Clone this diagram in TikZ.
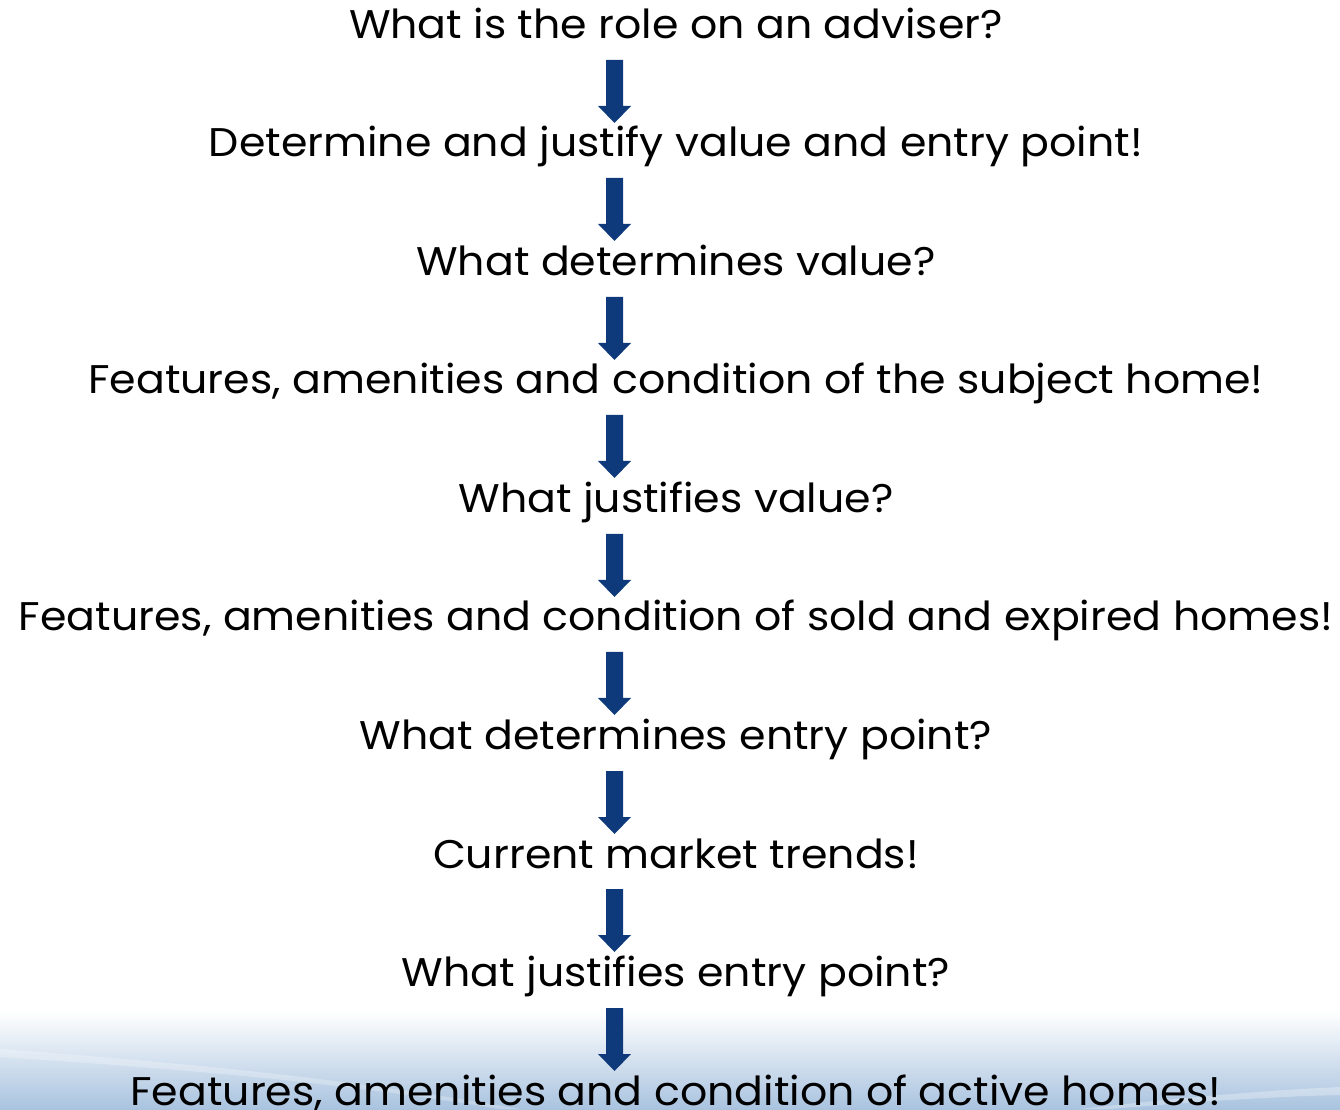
\documentclass[tikz,border=0pt]{standalone}
\usepackage{fontspec}
\setmainfont[FakeStretch=1.067]{Poppins}
\begin{document}
\begin{tikzpicture}[x=1pt,y=1pt,
  line/.style={font=\fontsize{40}{46}\selectfont, text=black, anchor=base, inner sep=0pt},
  flowarrow/.style={fill=arrowblue, draw=none}]
\definecolor{arrowblue}{HTML}{0E3A7C}
\definecolor{bandblue}{HTML}{A9C3DF}
\useasboundingbox (0,0) rectangle (1340,1109);
% pale blue band along the foot of the page
\shade[top color=white, bottom color=bandblue] (0,0) rectangle (1340,98);
\fill[white, opacity=0.25] (0,60) .. controls (200,45) and (350,30) .. (520,0) -- (500,0) .. controls (330,28) and (180,40) .. (0,52) -- cycle;
\fill[white, opacity=0.3] (1340,22) .. controls (1250,18) and (1150,8) .. (1080,0) -- (1110,0) .. controls (1180,6) and (1260,12) .. (1340,14) -- cycle;
% the chain of statements
\node[line] (t1) at (676,1070.5) {What is the role on an adviser?};
\node[line] (t2) at (676,952) {Determine and justify value and entry point!};
\node[line] (t3) at (676,833.5) {What determines value?};
\node[line] (t4) at (676,715) {Features, amenities and condition of the subject home!};
\node[line] (t5) at (676,596.5) {What justifies value?};
\node[line] (t6) at (676,478) {Features, amenities and condition of sold and expired homes!};
\node[line] (t7) at (676,359.5) {What determines entry point?};
\node[line] (t8) at (676,241) {Current market trends!};
\node[line] (t9) at (676,122.5) {What justifies entry point?};
\node[line] (t10) at (676,4) {Features, amenities and condition of active homes!};
% block arrows between consecutive lines
\foreach \i/\top in {1/1049,2/931,3/812,4/694,5/575,6/457,7/338,8/220,9/101}{
  \fill[flowarrow] (606,\top) -- (623,\top) -- (623,\top-46) -- (631,\top-46)
    -- (614.5,\top-63) -- (598,\top-46) -- (606,\top-46) -- cycle;
}
\end{tikzpicture}
\end{document}
